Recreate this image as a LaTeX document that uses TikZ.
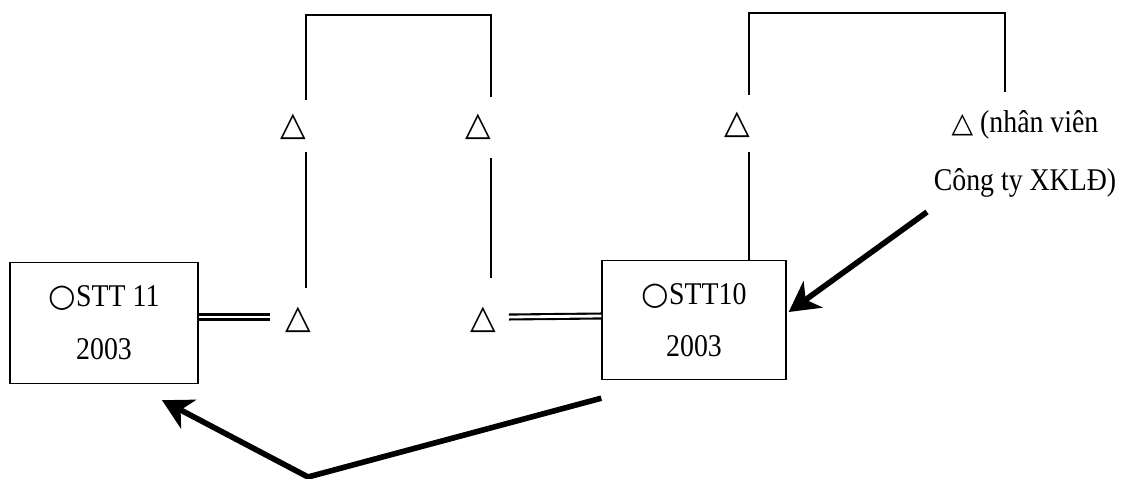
\documentclass[tikz,border=0pt]{standalone}
\usepackage{fontspec}
\setmainfont{Liberation Serif}[FakeStretch=0.88]
\newfontfamily\symf{DejaVu Sans}
\usetikzlibrary{positioning,arrows.meta,calc}

\begin{document}
\begin{tikzpicture}[x=0.02cm, y=-0.02cm,
      font=\fontsize{18}{30}\selectfont,
      box/.style={draw, thick, align=center, inner sep=0pt},
      tri/.style={inner sep=2pt, font=\symf\fontsize{19}{20}\selectfont},
      lbl/.style={align=center, inner sep=0pt, font=\fontsize{18}{33}\selectfont},
      ln/.style={line width=1pt},
      dbl/.style={double, double distance=1.6pt, line width=1.2pt},
      arr/.style={-{Stealth[length=6mm, width=6.5mm, inset=1.8mm]}, line width=3.2pt},
    ]
    \useasboundingbox (0,0) rectangle (1121,479);

    \node[box, minimum width=3.76cm, minimum height=2.42cm] (stt11) at (104,323) {{\symf ○}STT 11\\2003};
    \node[box, minimum width=3.68cm, minimum height=2.38cm] (stt10) at (694,320) {{\symf ○}STT10\\2003};

    % lower triangles
    \node[tri] (ta0) at (298,320) {△};
    \node[tri] (tb0) at (483,320) {△};
    % upper triangles
    \node[tri] (ta1) at (293,127) {△};
    \node[tri] (tb1) at (478,127) {△};
    \node[tri] (tc1) at (737,125) {△};
    \node[lbl] (td1) at (1025,154) {{\symf\fontsize{16}{20}\selectfont △} (nhân viên\\Công ty XKLĐ)};

    \draw[dbl] ($(stt11.east)+(0,-6)$) -- ($(ta0)+(-28,-3)$);
    \draw[dbl] ($(tb0)+(26,-3)$) -- ($(stt10.west)+(0,-4)$);

    \draw[ln] ($(ta0)+(8,-32)$) -- ($(ta1)+(13,25)$);
    \draw[ln] ($(ta1)+(13,-27)$) -- ++(0,-85) -| ($(tb1)+(13,-30)$);
    \draw[ln] ($(tb1)+(13,31)$) -- ($(tb0)+(8,-42)$);

    \draw[ln] ($(stt10.north)+(55,0)$) -- ($(tc1)+(12,27)$);
    \draw[ln] ($(tc1)+(12,-30)$) -- ++(0,-82) -| ($(td1)+(-20,-62)$);

    \coordinate (bend) at (308,477);
    \draw[arr] ($(td1)+(-98,58)$) -- ($(stt10.east)+(2,-8)$);
    \draw[arr, line join=round] ($(stt10.south west)+(0,18)$) -- (bend) -- ($(stt11.south)+(58,16)$);
\end{tikzpicture}
\end{document}
